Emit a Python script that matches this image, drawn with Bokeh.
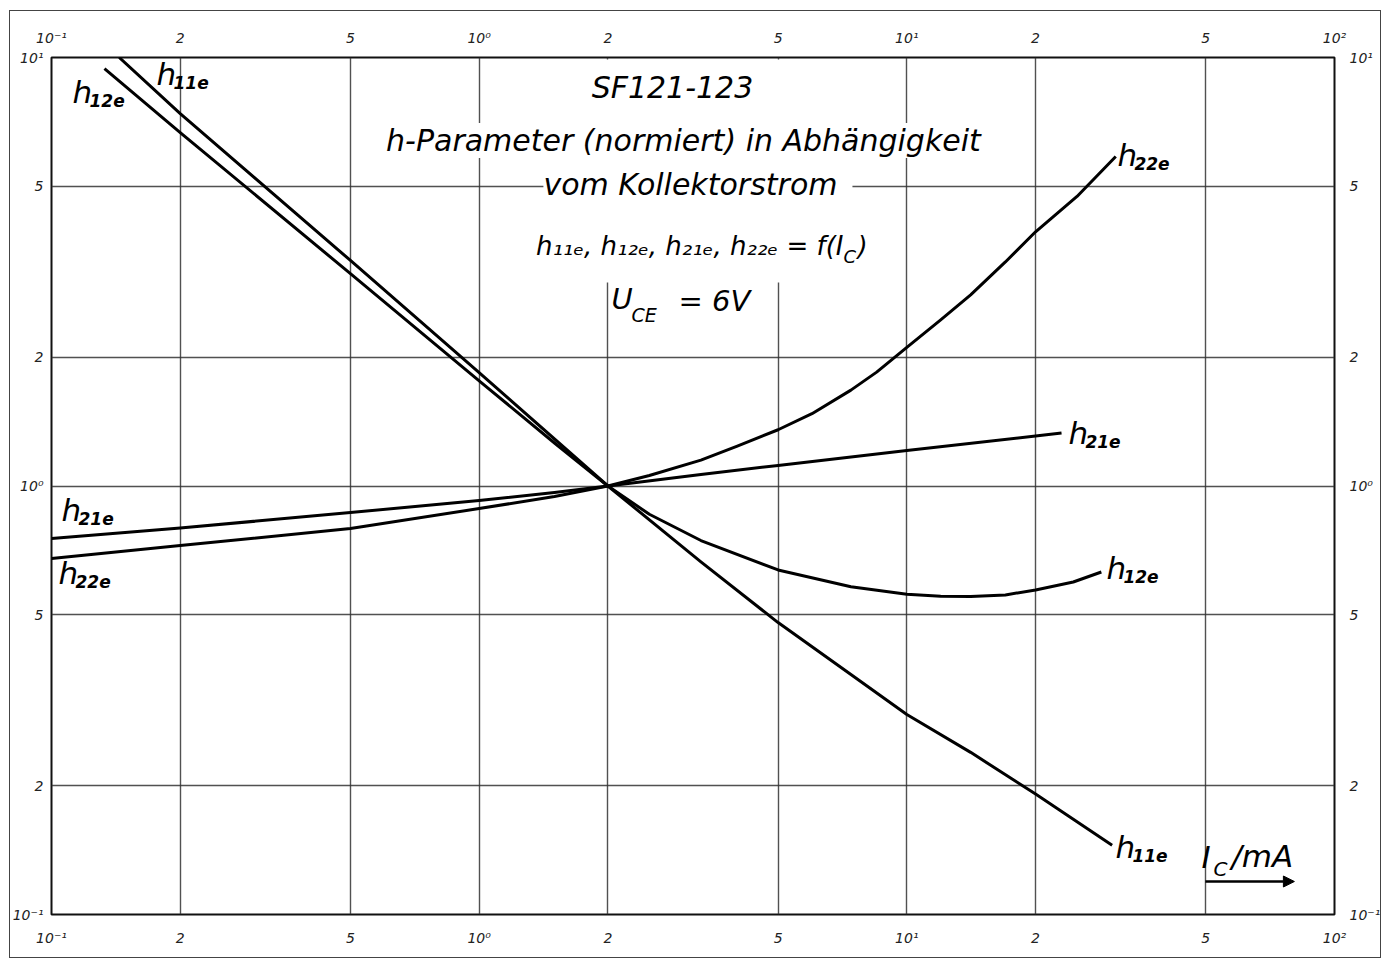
from bokeh.plotting import figure
from bokeh.models import LogAxis, FixedTicker, Label, BoxAnnotation, Arrow, NormalHead, Range1d
from bokeh.embed import file_html
from bokeh.resources import INLINE

# ---------------- data (normalised h-parameters vs collector current) ----------------
ic_h11e = [0.144, 0.2, 0.5, 1.0, 2.0, 3.3, 5.0, 7.4, 10.0, 14.1, 20.0, 30.2]
h11e = [10.0, 7.40, 3.36, 1.84, 1.0, 0.665, 0.480, 0.363, 0.293, 0.239, 0.191, 0.145]

ic_h12e = [0.133, 0.2, 0.5, 1.0, 1.5, 2.0, 2.5, 3.3, 5.0, 7.4, 10.0, 12.0, 14.1, 17.0, 20.0, 24.5, 28.5]
h12e = [9.42, 6.68, 3.13, 1.76, 1.26, 1.0, 0.859, 0.746, 0.637, 0.582, 0.559, 0.553, 0.552, 0.557,
        0.572, 0.597, 0.630]

ic_h21e = [0.1, 0.2, 0.5, 1.0, 1.5, 2.0, 3.3, 5.0, 10.0, 20.0, 23.0]
h21e = [0.754, 0.798, 0.867, 0.925, 0.966, 1.0, 1.064, 1.117, 1.21, 1.308, 1.33]

ic_h22e = [0.1, 0.2, 0.5, 1.0, 1.5, 2.0, 2.5, 3.3, 4.0, 5.0, 6.0, 7.4, 8.5, 10.0, 12.0, 14.1, 17.0,
           20.0, 25.0, 30.8]
h22e = [0.677, 0.726, 0.796, 0.886, 0.945, 1.0, 1.058, 1.149, 1.237, 1.353, 1.475, 1.674, 1.844, 2.107,
        2.441, 2.794, 3.333, 3.920, 4.74, 5.875]

x_ticks = [0.1, 0.2, 0.5, 1, 2, 5, 10, 20, 50, 100]
x_tick_labels = ["10⁻¹", "2", "5", "10⁰", "2", "5", "10¹", "2", "5", "10²"]
y_ticks = [0.1, 0.2, 0.5, 1, 2, 5, 10]
y_tick_labels = ["10⁻¹", "2", "5", "10⁰", "2", "5", "10¹"]

FONT = "DejaVu Sans"

# pixel -> data helpers for annotation placement (layout only)
def X(px):
    return 10 ** (-1 + (px - 51) / 427.7)

def Y(py):
    return 10 ** ((485.5 - py) / 428.5)

p = figure(width=1383, height=960, x_axis_type="log", y_axis_type="log",
           x_range=Range1d(0.1, 100), y_range=Range1d(0.1, 10),
           output_backend="svg", toolbar_location=None, title=None,
           min_border_left=51, min_border_right=49, min_border_top=57, min_border_bottom=46)
p.background_fill_color = "white"
p.border_fill_color = "white"
p.outline_line_color = "#111111"
p.outline_line_width = 2

p.add_layout(LogAxis(), "above")
p.add_layout(LogAxis(), "right")

for ax in p.xaxis:
    ax.ticker = FixedTicker(ticks=x_ticks)
    ax.major_label_overrides = dict(zip(x_ticks, x_tick_labels))
for ax in p.yaxis:
    ax.ticker = FixedTicker(ticks=y_ticks)
    ax.major_label_overrides = dict(zip(y_ticks, y_tick_labels))
for ax in p.xaxis + p.yaxis:
    ax.axis_line_color = None
    ax.major_tick_line_color = None
    ax.minor_tick_line_color = None
    ax.major_tick_out = 0
    ax.major_tick_in = 0
    ax.major_label_text_font = FONT
    ax.major_label_text_font_style = "italic"
    ax.major_label_text_font_size = "14px"
    ax.major_label_text_color = "#222222"
p.below[0].major_label_standoff = 15
p.above[0].major_label_standoff = 12
p.left[0].major_label_standoff = 8
p.right[0].major_label_standoff = 15

p.xgrid.ticker = FixedTicker(ticks=x_ticks)
p.ygrid.ticker = FixedTicker(ticks=y_ticks)
for g in (p.xgrid, p.ygrid):
    g.grid_line_color = "#333333"
    g.grid_line_width = 1.4
    g.grid_line_alpha = 0.85

# ---------------- curves ----------------
for xs, ys in ((ic_h11e, h11e), (ic_h12e, h12e), (ic_h21e, h21e), (ic_h22e, h22e)):
    p.line(xs, ys, line_color="black", line_width=3, line_join="round")

# white area behind the title block
p.add_layout(BoxAnnotation(left=X(560), right=X(852), top=Y(59), bottom=Y(282),
                           fill_color="white", fill_alpha=1.0, line_color=None))

def lab(px, py, text, size, align="center", bg=None, style="italic"):
    kw = dict(x=X(px), y=Y(py), text=text, text_font=FONT, text_font_style=style,
              text_font_size=f"{size}px", text_color="black",
              text_align=align, text_baseline="middle")
    if bg:
        kw["background_fill_color"] = bg
    p.add_layout(Label(**kw))

def hlab(px, py, sub):
    lab(px, py, "h", 31, align="left")
    lab(px + 17, py + 9, sub, 17, align="left", style="bold italic")

# title block
lab(672, 87, "SF121-123", 30)
lab(683, 140, "h-Parameter (normiert) in Abhängigkeit", 30, bg="white")
lab(690, 184, "vom Kollektorstrom", 30, bg="white")
lab(843, 245, "h₁₁ₑ, h₁₂ₑ, h₂₁ₑ, h₂₂ₑ = f(I", 26, align="right")
lab(843, 256, "C", 18, align="left")
lab(857, 245, ")", 26, align="left")
lab(611, 298, "U", 29, align="left")
lab(631, 314, "CE", 19, align="left")
lab(678, 300, "= 6V", 29, align="left")

# curve labels
hlab(156, 73, "11e")
hlab(72, 91, "12e")
hlab(1117, 154, "22e")
hlab(1068, 432, "21e")
hlab(1106, 567, "12e")
hlab(1115, 846, "11e")
hlab(61, 509, "21e")
hlab(58, 572, "22e")

# axis title with arrow
lab(1201, 856, "I", 31, align="left")
lab(1213, 868, "C", 20, align="left")
lab(1231, 855, "/mA", 31, align="left")
p.add_layout(Arrow(end=NormalHead(size=11, fill_color="black", line_color="black"),
                   x_start=X(1205), y_start=Y(881), x_end=X(1294), y_end=Y(881),
                   line_width=2.5, line_color="black"))

# outer drawing frame (page border)
p.stylesheets = [":host::after { content: ''; position: absolute; left: 9px; top: 10px; "
                 "width: 1372px; height: 948px; box-sizing: border-box; "
                 "border: 1.5px solid #444; pointer-events: none; }"]

open("out.html", "w").write(file_html(p, INLINE))
